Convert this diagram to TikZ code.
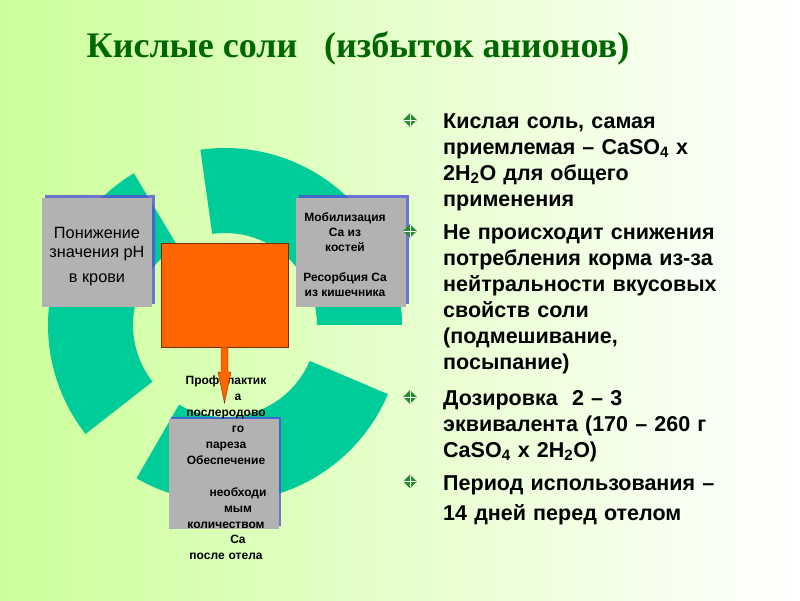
\documentclass[tikz,border=0pt]{standalone}
\usepackage{fontspec}
\setmainfont{Liberation Sans}
\newfontfamily\titlefont{Liberation Serif}
\usetikzlibrary{shapes.geometric,shadows}
\definecolor{bgleft}{RGB}{204,255,153}
\definecolor{ringgreen}{RGB}{0,204,153}
\definecolor{boxgrey}{RGB}{178,178,178}
\definecolor{shadowblue}{RGB}{80,80,215}
\definecolor{saltorange}{RGB}{255,102,0}
\definecolor{titlegreen}{RGB}{0,102,0}
\definecolor{bulletgreen}{RGB}{40,140,50}

\begin{document}
\begin{tikzpicture}[x=1pt,y=1pt,
greybox/.style={fill=boxgrey, minimum width=110, minimum height=109, inner sep=0,
  general shadow={fill=shadowblue, opacity=.8, shadow xshift=2.5pt, shadow yshift=2.5pt}},
boxtext/.style={align=center, inner sep=0, font=\bfseries\fontsize{12}{15}\selectfont},
saltbox/.style={fill=saltorange, draw=black!55!saltorange, minimum width=127, minimum height=104},
bullettext/.style={anchor=base west, text width=340, align=left, inner sep=0, font=\bfseries\fontsize{21.5}{26}\selectfont},
bulletmark/.style={diamond, fill=bulletgreen, minimum size=14, inner sep=0,
  path picture={\draw[white, line width=.7] (path picture bounding box.north) -- (path picture bounding box.south)
  (path picture bounding box.west) -- (path picture bounding box.east);}}]
\useasboundingbox (0,0) rectangle (800,600);
\shade[left color=bgleft, right color=white] (0,0) rectangle (800,600);
\coordinate (hub) at (225,275);
\foreach \a/\b in {0/98,121/218,240/337}
  \fill[ringgreen] (hub) ++(\a:177) arc[start angle=\a, end angle=\b, radius=177]
    -- ++({\b+180}:85) arc[start angle=\b, end angle=\a, radius=92] -- cycle;
\node[greybox] (ph) at (97,347.5) {};
\node[boxtext, font=\fontsize{16.3}{21.8}\selectfont] (phtext) at ([yshift=-4]ph.center) {Понижение\\[-3pt]значения pH\\[3pt]в крови};
\node[greybox] (mobil) at (351,347.5) {};
\node[boxtext] (mobiltext) at ([shift={(-6,-2.5)}]mobil.center)
  {Мобилизация\\Ca из\\костей\\[15pt]Ресорбция Ca\\из кишечника};
\node[greybox] (supply) at (223.5,126) {};
\node[boxtext, anchor=base, text width=130, font=\bfseries\fontsize{12}{15.9}\selectfont] (prof) at (226,215)
  {Профилактик\\\hspace*{24pt}а\\послеродово\\\hspace*{24pt}го\\пареза\\Обеспечение\\[15.9pt]\hspace*{24pt}необходи\\\hspace*{24pt}мым\\количеством\\\hspace*{24pt}Ca\\после отела};
\node[saltbox] (salt) at (224.5,305) {};
\coordinate (tip) at (224.5,197);
\filldraw[fill=saltorange, draw=black!55!saltorange] ([xshift=-3.5]salt.south) -- ++(0,-25) -- ++(-3,0) -- (tip)
  -- ++(6.5,31) -- ++(-3,0) -- ([xshift=3.5]salt.south) -- cycle;
\node[font=\titlefont\bfseries\fontsize{36}{36}\selectfont, text=titlegreen] (title) at (358,552) {Кислые соли \ \ (избыток анионов)};
\node[bullettext] (p1) at (443,471.5) {Кислая соль, самая\\приемлемая – CaSO\textsubscript{4} x\\2H\textsubscript{2}O для общего\\применения};
\node[bullettext] (p2) at (443,360.5) {Не происходит снижения\\потребления корма из-за\\нейтральности вкусовых\\свойств соли\\(подмешивание,\\посыпание)};
\node[bullettext] (p3) at (443,194.5) {Дозировка~ 2 – 3\\эквивалента (170 – 260 г\\CaSO\textsubscript{4} x 2H\textsubscript{2}O)};
\node[bullettext] (p4) at (443,110) {Период использования –\\[4pt]14 дней перед отелом};
\foreach \p in {p1,p2,p3,p4}
  \node[bulletmark] at ([shift={(-33,8.5)}]\p.base west) {};
\end{tikzpicture}
\end{document}
